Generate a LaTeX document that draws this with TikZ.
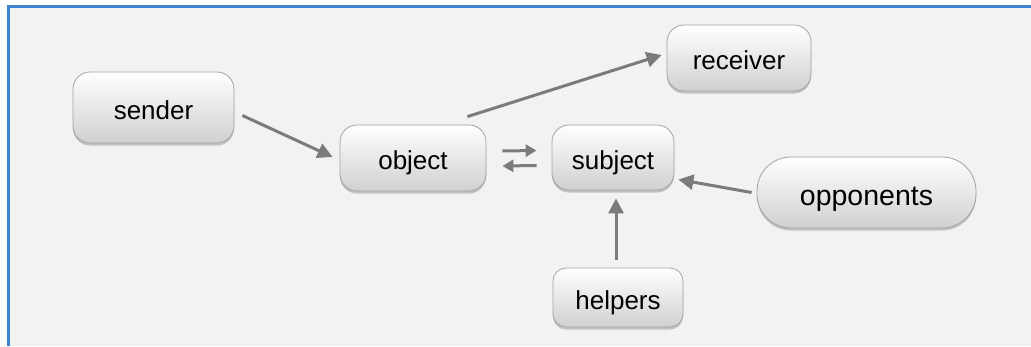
\documentclass[tikz,border=0pt]{standalone}
\usepackage{fontspec}
\setmainfont{Liberation Sans}
\usetikzlibrary{arrows.meta,shadows,calc}
\definecolor{panel}{HTML}{F2F2F2}
\definecolor{frame}{HTML}{3D85CC}
\definecolor{boxline}{HTML}{A3A3A3}
\definecolor{boxbottom}{HTML}{D0D0D0}
\definecolor{link}{HTML}{7B7B7B}
\tikzset{
  card/.style={draw=boxline, line width=0.8pt, rounded corners=17pt,
    top color=white, bottom color=boxbottom, text=black,
    font=\fontsize{26}{30}\selectfont, inner sep=0pt,
    text height=23pt, text depth=0pt,
    drop shadow={shadow xshift=0pt, shadow yshift=-2.5pt, opacity=0.35, fill=black!60}},
  link/.style={draw=link, line width=3pt,
    -{Triangle[length=15pt,width=15pt]}},
  swap/.style={draw=link, line width=3pt,
    -{Triangle[length=11pt,width=12pt]}}
}
\begin{document}
\begin{tikzpicture}[x=1pt,y=-1pt]
  % canvas and the blue frame along top and left
  \useasboundingbox (0,0) rectangle (1031,346);
  \fill[white] (0,0) rectangle (1031,346);
  \fill[panel] (8,6) rectangle (1031,346);
  \draw[frame, line width=3pt] (8,346) -- (8,6) -- (1031,6);

  % actants
  \node[card, minimum width=161pt, minimum height=71pt] (sender)    at (153.5,107.5) {sender};
  \node[card, minimum width=146pt, minimum height=66pt] (object)    at (413,158)     {object};
  \node[card, minimum width=122pt, minimum height=65pt] (subject)   at (613,157.5)   {subject};
  \node[card, minimum width=144pt, minimum height=66pt] (receiver)  at (739,58)      {receiver};
  \node[card, minimum width=219pt, minimum height=71pt, rounded corners=34pt,
        font=\fontsize{28.5}{32}\selectfont, text height=25pt] (opponents) at (866.5,192.5) {opponents};
  \node[card, minimum width=130pt, minimum height=59pt, rounded corners=13pt] (helpers) at (618,297.5) {helpers};

  % relations
  \draw[link] ($(sender.east)+(8,8)$) -- ($(object.west)+(-7,-1)$);
  \draw[link] ($(object.north east)+(-19,-8)$) -- ($(receiver.west)+(-5,-3)$);
  \draw[swap] ($(object.east)+(16,-7)$) -- ($(subject.west)+(-15,-7)$);
  \draw[swap] ($(subject.west)+(-15,8)$) -- ($(object.east)+(16,8)$);
  \draw[link] ($(opponents.west)+(-5,0)$) -- ($(subject.east)+(4,22)$);
  \draw[link] ($(helpers.north)+(-2,-8)$) -- ($(subject.south)+(3,8)$);
\end{tikzpicture}
\end{document}
